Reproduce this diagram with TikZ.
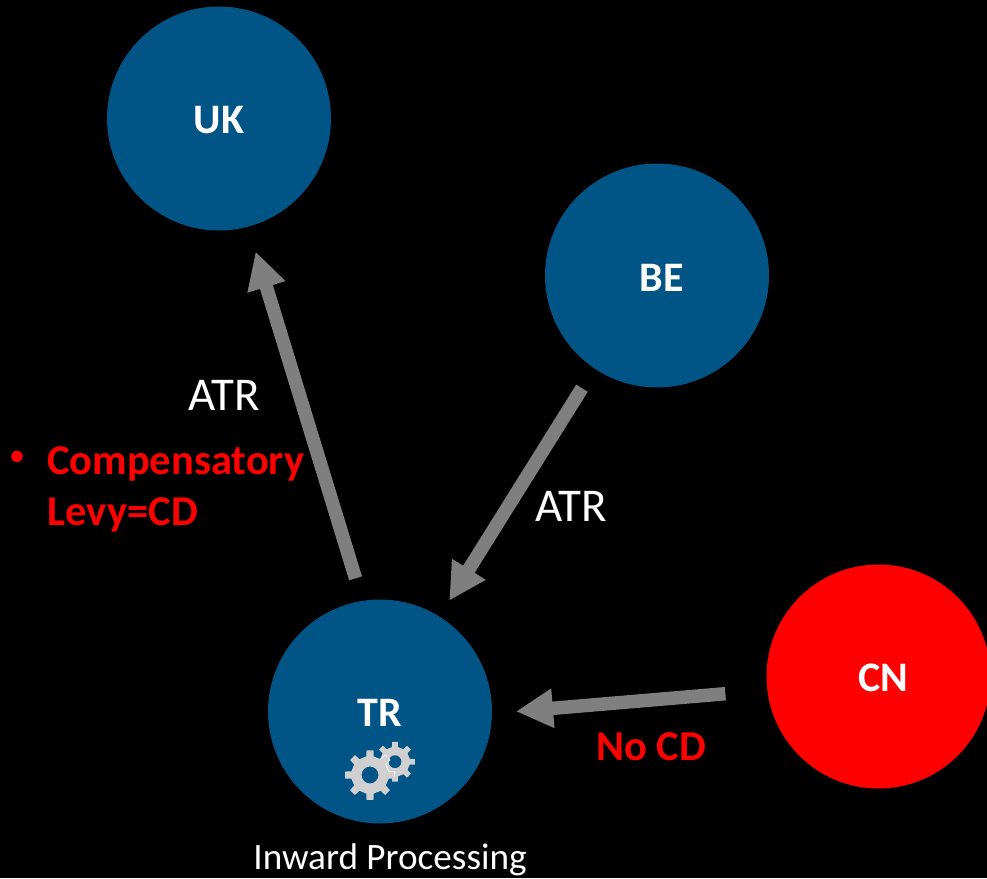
\documentclass[tikz,border=0pt]{standalone}
\usepackage{fontspec}
\setmainfont{Carlito}
\usetikzlibrary{arrows.meta,calc}
\definecolor{blob}{HTML}{005486}
\definecolor{arrowgrey}{HTML}{7F7F7F}
\definecolor{gearfill}{HTML}{D0D0D0}
\newcommand{\gearshape}[5]{% cx cy outer body hole
  (#1,#2) ++(-11:#4)
  foreach \a in {0,45,...,315} {
    -- ($(#1,#2)+(\a-11:#4)$) -- ($(#1,#2)+(\a-8:#3)$) -- ($(#1,#2)+(\a+8:#3)$) -- ($(#1,#2)+(\a+11:#4)$)
  } -- cycle
  (#1,#2) circle (#5)}
\tikzset{
  x=1pt,y=-1pt,
  country/.style={circle,minimum size=224pt,inner sep=0pt,outer sep=0pt,fill=blob},
  redcountry/.style={country,fill=red},
  countrytext/.style={inner sep=0pt,text=white,font=\fontsize{42}{46}\selectfont\bfseries},
  flow/.style={draw=arrowgrey,line width=13.5pt,-{Triangle[length=37pt,width=37pt,fill=arrowgrey]}},
  plainlabel/.style={inner sep=0pt,text=white,font=\fontsize{47}{50}\selectfont},
  redlabel/.style={inner sep=0pt,text=red,font=\fontsize{42.5}{51}\selectfont\bfseries},
  caption/.style={inner sep=0pt,text=white,font=\fontsize{37.2}{40}\selectfont},
}
\begin{document}
\begin{tikzpicture}
\fill[black] (0,0) rectangle (987,878);
\useasboundingbox (0,0) rectangle (987,878);
\node[country] (uk) at (219,118.5) {};
\node[country] (be) at (657,275.5) {};
\node[country] (tr) at (380,711.5) {};
\node[redcountry] (cn) at (878.5,676.5) {};
\node[countrytext] (uktext) at (219,120) {UK};
\node[countrytext] (betext) at (662,278) {BE};
\node[countrytext] (trtext) at (380,713) {TR};
\node[countrytext] (cntext) at (883,678) {CN};
\draw[flow,shorten <=23.6pt,shorten >=26pt] (tr.99.2) -- (uk.-75.8);
\draw[flow,shorten <=23.4pt,shorten >=18.7pt] (be.-124.7) -- (tr.58.1);
\draw[flow,shorten <=42.1pt,shorten >=24.1pt] (cn.187.5) -- (tr.-1);
\fill[gearfill,even odd rule] \gearshape{395}{761.7}{20}{15}{6.5};
\fill[gearfill,even odd rule] \gearshape{370}{775}{25}{19}{8.5};
\begin{scope}
\clip (395,761.7) circle (15);
\draw[white!85!gearfill,line width=0.8pt] \gearshape{370}{775}{25}{19}{8.5};
\end{scope}
\node[plainlabel] (atrl) at (224,395.5) {ATR};
\node[plainlabel] (atrr) at (571,506.5) {ATR};
\node[inner sep=0pt,text=red,font=\fontsize{27}{30}\selectfont\bfseries] (bullet) at (17,458) {•};
\node[redlabel,anchor=west] (comp) at (47,464) {Compensatory};
\node[redlabel,anchor=west] (levy) at (47.5,515) {Levy=CD};
\node[redlabel] (nocd) at (651,747) {No CD};
\node[caption] (ip) at (390,859.5) {Inward Processing};
\end{tikzpicture}
\end{document}
